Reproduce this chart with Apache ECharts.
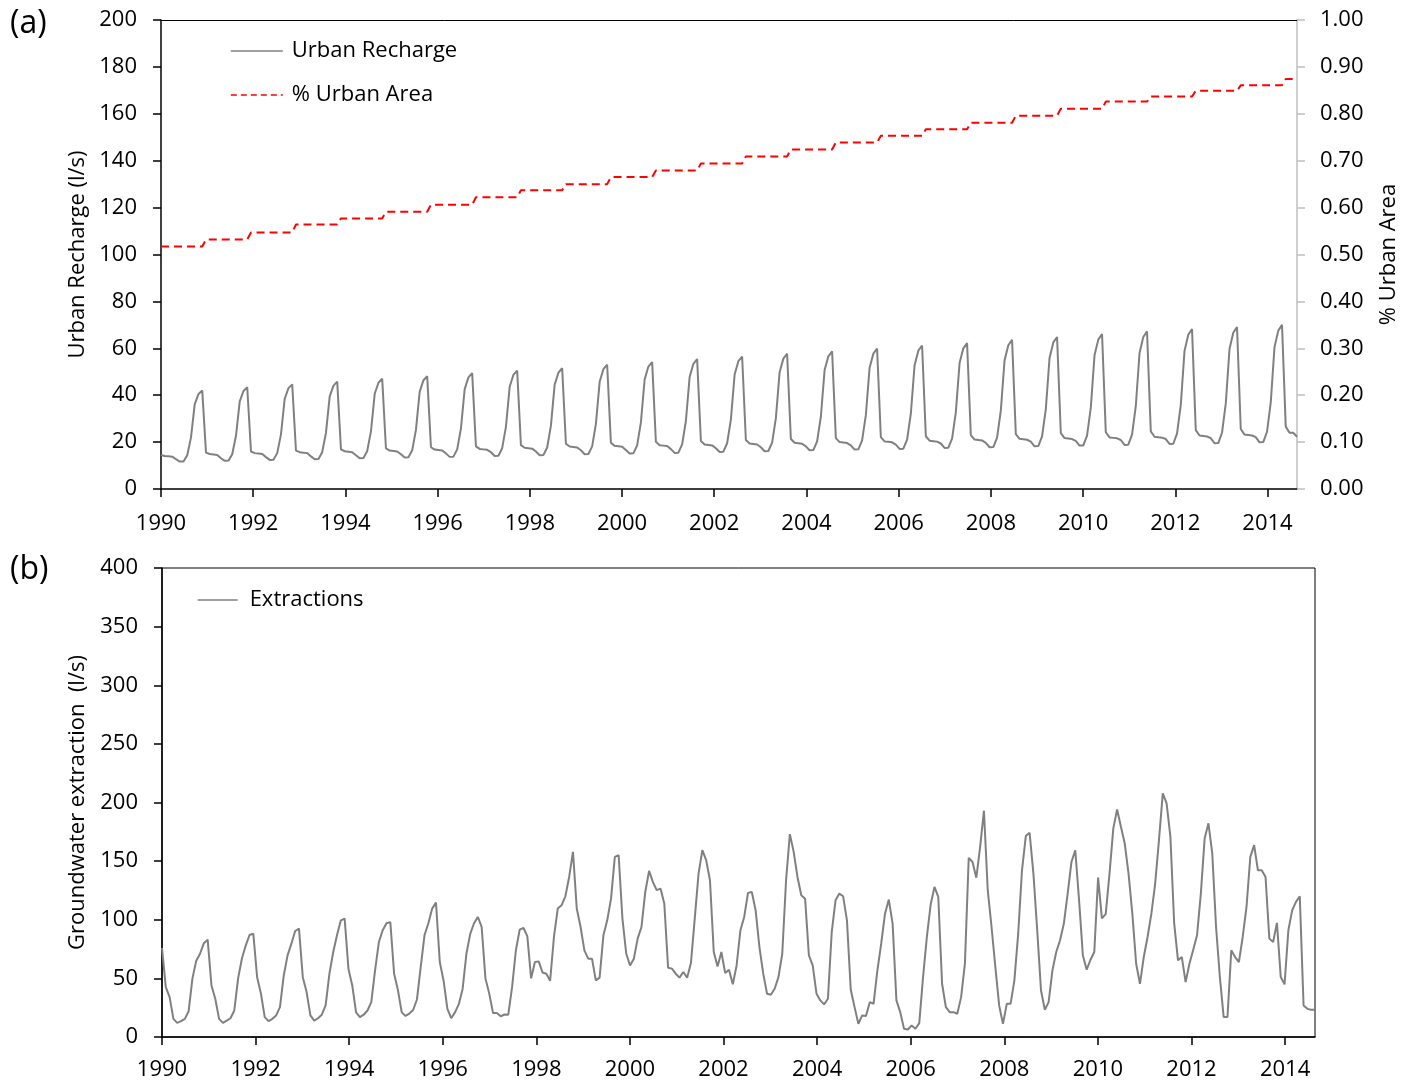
<!DOCTYPE html>
<html>
<head>
<meta charset="utf-8">
<script src="https://cdn.jsdelivr.net/npm/echarts@6/dist/echarts.min.js"></script>
<style>
html,body{margin:0;padding:0;background:#fff;}
#chart{width:1413px;height:1082px;}
</style>
</head>
<body>
<div id="chart"></div>
<script>
// ---------------- DATA ----------------
const xTickYears = [1990,1992,1994,1996,1998,2000,2002,2004,2006,2008,2010,2012,2014];
const rechargeTicks = [0,20,40,60,80,100,120,140,160,180,200];
const extractionTicks = [0,50,100,150,200,250,300,350,400];

// % urban area, one value per year (1990 ... 2015)
const urbanAreaYears = [1990,1991,1992,1993,1994,1995,1996,1997,1998,1999,2000,2001,2002,
                        2003,2004,2005,2006,2007,2008,2009,2010,2011,2012,2013,2014,2015];
const urbanAreaByYear = [0.517,0.532,0.547,0.564,0.577,0.591,0.606,0.622,0.637,0.650,0.665,0.679,0.694,
                         0.709,0.724,0.739,0.753,0.767,0.781,0.796,0.811,0.826,0.837,0.849,0.861,0.874];

// Urban recharge (l/s), monthly
const urbanRecharge = [
  14.5,14.1,14.0,13.8,12.7,11.7,11.7,14.4,22.0,36.2,40.5,42.0,
  15.5,14.9,14.7,14.5,13.1,12.0,12.1,14.8,22.7,37.4,41.8,43.4,
  16.0,15.3,15.1,14.9,13.6,12.4,12.5,15.3,23.3,38.5,43.0,44.6,
  16.4,15.7,15.5,15.3,13.9,12.7,12.8,15.7,24.0,39.5,44.1,45.8,
  16.9,16.1,15.9,15.7,14.4,13.1,13.2,16.2,24.6,40.6,45.3,47.0,
  17.3,16.4,16.2,16.0,14.8,13.4,13.5,16.5,25.2,41.5,46.4,48.1,
  17.8,16.8,16.6,16.4,15.2,13.7,13.8,16.9,25.8,42.6,47.6,49.4,
  18.2,17.1,16.9,16.7,15.7,14.1,14.2,17.4,26.5,43.6,48.7,50.5,
  18.7,17.6,17.4,17.2,16.0,14.4,14.5,17.7,27.0,44.5,49.6,51.5,
  19.3,18.1,17.9,17.7,16.5,14.8,14.9,18.2,27.8,45.7,51.1,53.0,
  19.7,18.4,18.2,18.0,16.6,15.1,15.2,18.6,28.4,46.7,52.2,54.1,
  20.1,18.7,18.5,18.3,17.0,15.4,15.5,19.0,29.0,47.8,53.4,55.4,
  20.5,19.0,18.8,18.6,17.4,15.8,15.9,19.5,29.6,48.8,54.5,56.5,
  20.9,19.4,19.2,19.0,17.8,16.1,16.2,19.8,30.2,49.8,55.6,57.7,
  21.3,19.7,19.5,19.3,18.2,16.5,16.6,20.3,30.8,50.7,56.6,58.7,
  21.7,20.0,19.8,19.6,18.6,16.8,16.9,20.7,31.5,51.7,57.7,59.9,
  22.1,20.3,20.1,19.9,18.9,17.1,17.2,21.1,32.1,52.8,59.0,61.2,
  22.5,20.6,20.4,20.2,19.4,17.5,17.6,21.5,32.7,53.7,60.0,62.2,
  23.0,21.1,20.9,20.7,19.7,17.8,17.9,21.9,33.4,54.9,61.3,63.6,
  23.4,21.4,21.2,21.0,20.2,18.2,18.3,22.4,34.0,55.9,62.5,64.8,
  23.8,21.7,21.5,21.3,20.5,18.5,18.6,22.8,34.7,57.1,63.7,66.1,
  24.2,22.0,21.8,21.6,20.9,18.8,18.9,23.2,35.3,58.0,64.8,67.2,
  24.6,22.3,22.1,21.9,21.3,19.2,19.3,23.6,35.9,58.9,65.8,68.2,
  25.1,22.8,22.6,22.4,21.7,19.5,19.6,24.0,36.4,59.7,66.6,69.1,
  25.6,23.2,23.0,22.8,22.1,19.9,20.0,24.4,36.9,60.5,67.5,70.0,
  26.6,24.0,24.0,22.3
];

// Groundwater extraction (l/s), monthly
const extractions = [
  76,42.5,34,15.5,12,13.5,15.5,22,50,65,71,80,
  83,44,32.6,15.5,12,14,16,22.6,50,67,78,87,
  88,51,37,17,13.5,15.5,18.4,25.5,52.5,69.6,79.6,90.4,
  92.4,51,38.3,18.4,14,16,19,27,54,72.5,87,99.5,
  101,58,44,21,17,19,22.6,29.7,57,81,91,97,
  98,54,40,21,18,20,23,32,60,87,97,109.5,
  114.6,64,48,24,16,21,28,41,71,88,97,102.4,
  94,50,37,20.4,20.4,17.6,19.2,19,42.5,74,91.6,93,
  86,50,64,64.5,55,54,48,85.3,109.5,112.3,120,136.5,
  157.9,109.5,93.8,73.9,66.8,66.8,48.3,50.6,86.7,99.5,118,153.6,
  155,101,71,61,66.8,83.9,93.8,123.7,141.7,132.3,125.2,126.6,
  113.8,59.1,58.3,54,50.6,55.4,50.6,63.1,101,139.4,159.3,150.8,
  133.7,72.5,60.2,72.5,54.5,57.4,44.9,61,91,102.4,122.9,123.7,
  108,76.7,54,36.9,36,41.2,51.1,71,133.7,173,157.9,136.5,
  120.9,118,69.6,61,36.9,31.2,27.8,32.6,89.5,116.6,122.3,120,
  99.5,40.3,25.5,11.3,18.4,18,29.7,28.4,56.8,79.6,105.2,117.2,
  96.7,31.2,21.2,7,6.4,9.8,7,11.8,51.1,85.3,113,128,
  119.5,45.4,25.4,21.2,21.2,19.8,34,62.5,152.8,149.3,135.9,162.2,
  193,125.2,93.8,59.6,26.9,11.2,28.3,28.3,48.3,88.1,142.2,171.4,
  174.2,139.4,91,39.7,23.2,29.7,56.8,72.5,82.5,96.7,122.3,149.3,
  159.3,116.6,69.6,57.4,65.9,72.5,135.9,101.1,104.8,139.4,177.9,194.1,
  179.3,165.1,139.4,105.2,62.5,45.4,68.2,85.3,105.2,130.9,168,207.8,
  199.3,170.8,96.7,65.4,68.2,46.8,62.5,74.5,86.7,122.3,169.4,182.2,
  156.6,93.8,51.1,17,17,73.9,68.2,63.9,85.3,110.9,153.6,163.6,
  142.2,142.2,136.5,83.9,81,97.3,51.1,44.9,91,108,115.2,120,
  26.9,24,23.2,23.2
];

// ---------------- BUILD ----------------
const FONT = 'Open Sans';
const TXT = {fontFamily: FONT, fontSize: 22, color: '#000'};
const X_MIN = 1990, X_MAX = 2014.64;

// category labels for the monthly samples (not displayed)
const monthLabels = urbanRecharge.map((_, i) =>
  (urbanAreaYears[0] + Math.floor(i / 12)) + '-' + String(i % 12 + 1).padStart(2, '0'));
// each month carries the % urban area of its year
const urbanAreaMonthly = urbanRecharge.map((_, i) => urbanAreaByYear[Math.floor(i / 12)]);

const yearFmt = v => {
  const r = Math.round(v);
  return (Math.abs(v - r) < 1e-6 && xTickYears.indexOf(r) >= 0) ? String(r) : '';
};

function yearAxis(gridIndex, margin) {
  return {
    type: 'value', gridIndex, position: 'bottom', min: X_MIN, max: X_MAX, interval: 2,
    axisLine: {show: true, lineStyle: {color: '#000', width: 1.5}},
    axisTick: {show: true, inside: false, length: 8, customValues: xTickYears,
               lineStyle: {color: '#000', width: 1.5}},
    axisLabel: Object.assign({show: true, margin: margin, customValues: xTickYears, formatter: yearFmt}, TXT),
    splitLine: {show: false}
  };
}

const option = {
  animation: false,
  backgroundColor: '#fff',
  textStyle: {fontFamily: FONT},
  graphic: [
    {type: 'text', left: 10, top: 8, style: {text: '(a)', fontFamily: FONT, fontSize: 32, fill: '#000'}},
    {type: 'text', left: 10, top: 554, style: {text: '(b)', fontFamily: FONT, fontSize: 32, fill: '#000'}}
  ],
  grid: [
    {left: 161, top: 20, width: 1136, height: 469},
    {left: 162, top: 568, width: 1153, height: 469, show: true, borderColor: '#000', borderWidth: 1}
  ],
  legend: [
    {
      data: [
        {name: 'Urban Recharge', lineStyle: {width: 1.3}},
        {name: '% Urban Area', lineStyle: {type: [6, 4], width: 1.6}}
      ],
      orient: 'vertical', left: 225, top: 35, itemWidth: 52, itemHeight: 14, itemGap: 22,
      selectedMode: false,
      itemStyle: {opacity: 0},
      textStyle: Object.assign({padding: [0, 0, 0, 4]}, TXT)
    },
    {
      data: [{name: 'Extractions', lineStyle: {width: 1.3}}],
      orient: 'vertical', left: 192, top: 584, itemWidth: 40, itemHeight: 14,
      selectedMode: false,
      itemStyle: {opacity: 0},
      textStyle: Object.assign({padding: [0, 0, 0, 7]}, TXT)
    }
  ],
  xAxis: [
    {type: 'category', gridIndex: 0, position: 'bottom', data: monthLabels, boundaryGap: false, show: false},
    yearAxis(0, 24),
    {type: 'value', gridIndex: 0, position: 'top', min: 0, max: 1,
     axisLine: {show: true, lineStyle: {color: '#000', width: 1}},
     axisTick: {show: false}, axisLabel: {show: false}, splitLine: {show: false}},
    {type: 'category', gridIndex: 1, position: 'bottom', data: monthLabels, boundaryGap: false, show: false},
    yearAxis(1, 22)
  ],
  yAxis: [
    {
      type: 'value', gridIndex: 0, position: 'left',
      min: rechargeTicks[0], max: rechargeTicks[rechargeTicks.length - 1], interval: 20,
      name: 'Urban Recharge (l/s)', nameLocation: 'middle', nameGap: 72, nameRotate: 90,
      nameTextStyle: TXT,
      axisLine: {show: true, lineStyle: {color: '#000', width: 1.5}},
      axisTick: {show: true, inside: false, length: 8, lineStyle: {color: '#000', width: 1.5}},
      axisLabel: Object.assign({margin: 24}, TXT),
      splitLine: {show: false}
    },
    {
      type: 'value', gridIndex: 0, position: 'right', min: 0, max: 1, interval: 0.1,
      name: '% Urban Area', nameLocation: 'middle', nameGap: 81, nameRotate: 90,
      nameTextStyle: TXT,
      axisLine: {show: true, lineStyle: {color: '#bfbfbf', width: 1.5}},
      axisTick: {show: true, inside: false, length: 8, lineStyle: {color: '#bfbfbf', width: 1.5}},
      axisLabel: Object.assign({margin: 23, formatter: v => v.toFixed(2)}, TXT),
      splitLine: {show: false}
    },
    {
      type: 'value', gridIndex: 1, position: 'left',
      min: extractionTicks[0], max: extractionTicks[extractionTicks.length - 1], interval: 50,
      name: 'Groundwater extraction  (l/s)', nameLocation: 'middle', nameGap: 73, nameRotate: 90,
      nameTextStyle: TXT,
      axisLine: {show: true, lineStyle: {color: '#000', width: 1.5}},
      axisTick: {show: true, inside: false, length: 8, lineStyle: {color: '#000', width: 1.5}},
      axisLabel: Object.assign({margin: 24}, TXT),
      splitLine: {show: false}
    }
  ],
  series: [
    {
      name: 'Urban Recharge', type: 'line', xAxisIndex: 0, yAxisIndex: 0,
      data: urbanRecharge, symbol: 'none', showSymbol: false,
      lineStyle: {color: '#808080', width: 2}, itemStyle: {color: '#808080'}, z: 3
    },
    {
      name: '% Urban Area', type: 'line', xAxisIndex: 0, yAxisIndex: 1,
      data: urbanAreaMonthly, symbol: 'none', showSymbol: false,
      lineStyle: {color: '#ff0000', width: 2, type: [8, 5]}, itemStyle: {color: '#ff0000'}, z: 4
    },
    {
      name: 'Extractions', type: 'line', xAxisIndex: 3, yAxisIndex: 2,
      data: extractions, symbol: 'none', showSymbol: false,
      lineStyle: {color: '#808080', width: 2}, itemStyle: {color: '#808080'}, z: 3
    }
  ]
};

const chart = echarts.init(document.getElementById('chart'), null, {renderer: 'canvas'});
chart.setOption(option);
</script>
</body>
</html>
